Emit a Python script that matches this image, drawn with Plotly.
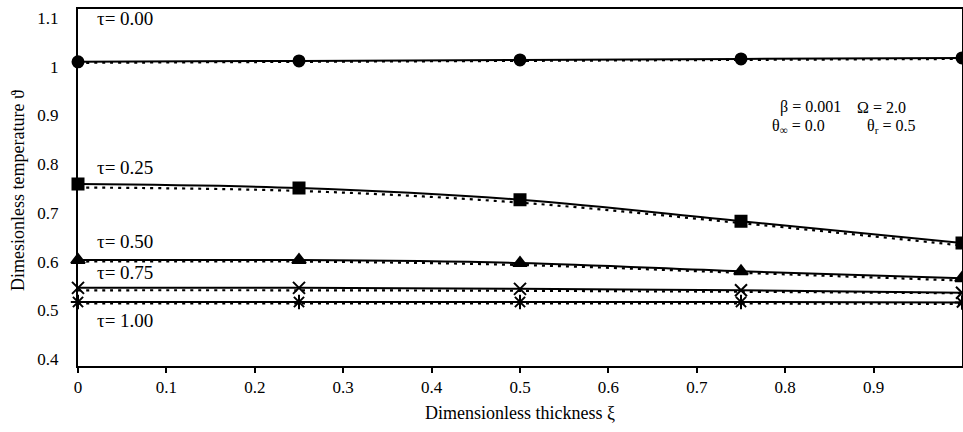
import plotly.graph_objects as go

xi = [0.0, 0.25, 0.5, 0.75, 1.0]

# solid curves (with markers)
tau000 = [1.010, 1.012, 1.014, 1.016, 1.018]
tau025 = [0.759, 0.751, 0.727, 0.683, 0.638]
tau050 = [0.603, 0.603, 0.597, 0.580, 0.566]
tau075 = [0.546, 0.546, 0.544, 0.541, 0.536]
tau100 = [0.517, 0.517, 0.517, 0.517, 0.516]

# dotted curves
tau000_d = [1.008, 1.010, 1.012, 1.014, 1.016]
tau025_d = [0.752, 0.745, 0.721, 0.679, 0.633]
tau050_d = [0.600, 0.600, 0.593, 0.577, 0.561]
tau075_d = [0.541, 0.541, 0.540, 0.538, 0.535]
tau100_d = [0.514, 0.514, 0.514, 0.514, 0.513]

x_ticks = [0, 0.1, 0.2, 0.3, 0.4, 0.5, 0.6, 0.7, 0.8, 0.9]
x_ticklabels = ["0", "0.1", "0.2", "0.3", "0.4", "0.5", "0.6", "0.7", "0.8", "0.9"]
y_ticks = [0.4, 0.5, 0.6, 0.7, 0.8, 0.9, 1.0, 1.1]
y_ticklabels = ["0.4", "0.5", "0.6", "0.7", "0.8", "0.9", "1", "1.1"]

series = [
    (tau000, tau000_d, "circle", 11, "τ= 0.00"),
    (tau025, tau025_d, "square", 11, "τ= 0.25"),
    (tau050, tau050_d, "triangle-up", 12, "τ= 0.50"),
    (tau075, tau075_d, "x-thin-open", 12, "τ= 0.75"),
    (tau100, tau100_d, "asterisk-open", 12, "τ= 1.00"),
]

FONT = "Liberation Serif, Times New Roman, serif"
fig = go.Figure()
for solid, dotted, sym, size, name in series:
    fig.add_trace(go.Scatter(
        x=xi, y=dotted, mode="lines",
        line=dict(color="black", width=2.2, dash="3px,5px", shape="spline"),
        showlegend=False, hoverinfo="skip", cliponaxis=False))
    fig.add_trace(go.Scatter(
        x=xi, y=solid, mode="lines+markers", name=name,
        line=dict(color="black", width=2, shape="spline"),
        marker=dict(symbol=sym, size=size, color="black", line=dict(color="black", width=2)),
        showlegend=False, cliponaxis=False))

tau_labels = [("τ= 0.00", 1.10), ("τ= 0.25", 0.794), ("τ= 0.50", 0.642),
              ("τ= 0.75", 0.577), ("τ= 1.00", 0.478)]
for txt, yv in tau_labels:
    fig.add_annotation(x=0.019, y=yv, xref="x", yref="y", text=txt, showarrow=False,
                       xanchor="left", yanchor="middle",
                       font=dict(family=FONT, size=19, color="black"))

params = [("β = 0.001", 0.792, 0.917), ("Ω = 2.0", 0.879, 0.917),
          ("θ<sub>∞</sub> = 0.0", 0.783, 0.878), ("θ<sub>r</sub> = 0.5", 0.890, 0.878)]
for txt, xv, yv in params:
    fig.add_annotation(x=xv, y=yv, xref="x", yref="y", text=txt, showarrow=False,
                       xanchor="left", yanchor="middle",
                       font=dict(family=FONT, size=16, color="black"))

fig.add_annotation(x=-0.068, y=0.493, xref="paper", yref="paper", text="Dimesionless temperature ϑ",
                   textangle=-90, showarrow=False, xanchor="center", yanchor="middle",
                   font=dict(family=FONT, size=18, color="black"))
fig.add_annotation(x=0.5, y=-0.1317, xref="paper", yref="paper", text="Dimensionless thickness ξ",
                   showarrow=False, xanchor="center", yanchor="middle",
                   font=dict(family=FONT, size=18, color="black"))

fig.update_layout(
    width=963, height=432,
    margin=dict(l=78, r=1, t=9, b=66),
    paper_bgcolor="white", plot_bgcolor="white",
    font=dict(family=FONT, size=17, color="black"),
    xaxis=dict(range=[0, 1.0], tickvals=x_ticks, ticktext=x_ticklabels, showgrid=False,
               zeroline=False, showline=True, linecolor="black", linewidth=2, mirror=True,
               ticks="outside", ticklen=5, tickwidth=2, tickcolor="black",
               ticklabelstandoff=0, automargin=False,
               tickfont=dict(family=FONT, size=17)),
    yaxis=dict(range=[0.3856, 1.1185], tickvals=y_ticks, ticktext=y_ticklabels, showgrid=False,
               zeroline=False, showline=True, linecolor="black", linewidth=2, mirror=True,
               ticks="", ticklabelstandoff=14, automargin=False,
               tickfont=dict(family=FONT, size=17)),
)

fig.write_html("out.html", config={"displayModeBar": False},
               post_script="document.body.style.margin='0';document.body.style.overflow='hidden';")
